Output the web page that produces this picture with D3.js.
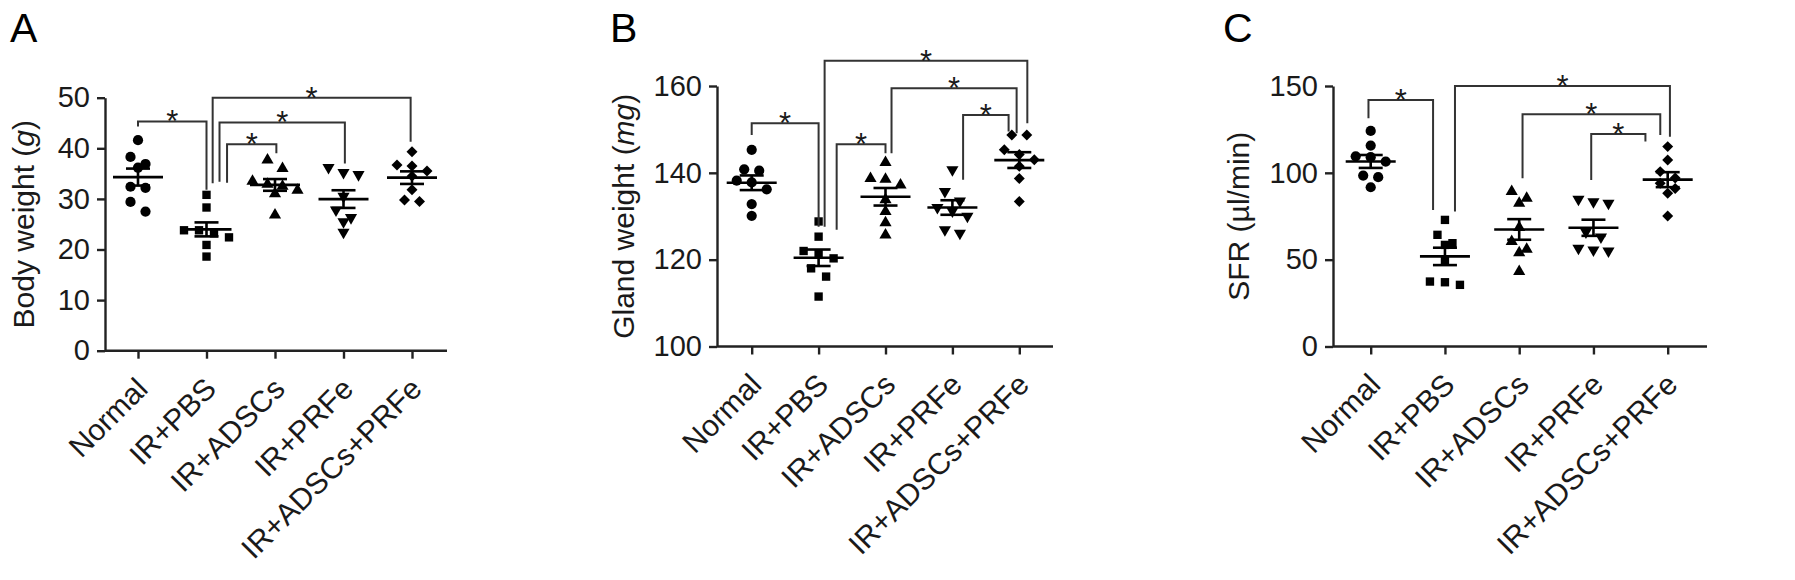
<!DOCTYPE html>
<html>
<head>
<meta charset="utf-8">
<script src="https://cdn.jsdelivr.net/npm/d3@7"></script>
<style>
  body { margin: 0; background: #fff; }
  svg { font-family: "Liberation Sans", Arial, sans-serif; display: block; }
</style>
</head>
<body>
<script>
// groups and marker shapes (same for every panel)
const groups = ['Normal', 'IR+PBS', 'IR+ADSCs', 'IR+PRFe', 'IR+ADSCs+PRFe']
const shapes = ['circle', 'square', 'triangle', 'triangleDown', 'diamond']

// A: body weight (g), one array per group
const bodyWeight = [
  [41.6, 38.3, 36.9, 36.2, 32.4, 32.2, 29.4, 27.5],
  [30.8, 28.3, 23.8, 23.8, 23.2, 22.4, 20.9, 18.6],
  [37.7, 36.0, 33.5, 32.9, 32.5, 31.7, 31.0, 26.8],
  [36.2, 35.2, 34.8, 30.5, 27.8, 26.3, 25.5, 23.4],
  [39.3, 36.7, 36.5, 35.5, 34.5, 31.8, 29.8, 29.5]
]

// B: gland weight (mg)
const glandWeight = [
  [145.3, 140.8, 140.5, 138.2, 137.8, 136.2, 132.8, 130.1],
  [128.8, 125.3, 122.0, 121.5, 120.3, 118.0, 116.1, 111.5],
  [142.4, 138.7, 138.5, 137.2, 133.8, 131.1, 128.5, 125.7],
  [140.7, 135.7, 133.5, 132.0, 131.2, 130.0, 126.9, 126.1],
  [148.7, 148.7, 145.3, 144.2, 143.0, 141.5, 138.7, 133.4]
]

// C: salivary flow rate (ul/min)
const sfr = [
  [124.1, 115.7, 109.5, 109.0, 106.5, 98.4, 97.5, 91.7],
  [72.9, 64.3, 59.5, 58.5, 49.9, 37.4, 37.0, 35.5],
  [89.2, 85.4, 82.5, 68.5, 60.4, 56.0, 54.0, 43.2],
  [84.8, 83.4, 82.5, 66.0, 63.0, 56.6, 55.6, 55.0],
  [115.1, 107.4, 100.7, 97.0, 94.0, 91.0, 88.2, 75.2]
]

// significance brackets: [from group, to group, bar level, left leg end, right leg end]
const bodyBrackets = [
  [0, 1, 45.3, 44.3, 31.8],
  [1, 4, 50.0, 33.1, 41.3],
  [1, 3, 45.1, 33.4, 37.0],
  [1, 2, 40.8, 33.2, 39.0]
]
const glandBrackets = [
  [0, 1, 151.4, 148.7, 127.6],
  [1, 4, 165.8, 127.6, 151.4],
  [2, 4, 159.5, 144.5, 149.1],
  [1, 2, 146.6, 126.9, 144.5],
  [3, 4, 153.3, 138.4, 149.5]
]
const sfrBrackets = [
  [0, 1, 141.9, 131.4, 78.6],
  [1, 4, 150.0, 77.7, 120.8],
  [2, 4, 133.7, 96.9, 121.8],
  [3, 4, 122.4, 95.9, 118.0]
]

// y ticks
const bodyTicks = [0, 10, 20, 30, 40, 50]
const glandTicks = [100, 120, 140, 160]
const sfrTicks = [0, 50, 100, 150]

let width = 1795
let height = 580

let svg = d3.select('body').append('svg')
  .attr('width', width)
  .attr('height', height)

let panels = [
  {
    letter: 'A', letterX: 10, data: bodyWeight, brackets: bodyBrackets, ticks: bodyTicks,
    domain: [0, 50], axisX: 105, top: 97.7, bottom: 350.7, first: 138, last: 412, end: 447,
    labelX: 34, label: ['Body weight (', 'g', ')'],
    // leg nudges (in steps) so brackets leaving the same group don't overlap
    nudge: [[0, 0], [0.09, -0.02], [0.19, 0.02], [0.3, 0.02]]
  },
  {
    letter: 'B', letterX: 610, data: glandWeight, brackets: glandBrackets, ticks: glandTicks,
    domain: [100, 160], axisX: 717, top: 86, bottom: 346.5, first: 751.7, last: 1019.3, end: 1053,
    labelX: 634, label: ['Gland weight (', 'mg', ')'],
    nudge: [[0, 0], [0.09, 0.12], [0.09, -0.04], [0.27, 0], [0.16, -0.16]]
  },
  {
    letter: 'C', letterX: 1223, data: sfr, brackets: sfrBrackets, ticks: sfrTicks,
    domain: [0, 150], axisX: 1333, top: 86, bottom: 346.5, first: 1370.7, last: 1667.7, end: 1707,
    labelX: 1249, label: ['SFR (\u00b5l/min)'],
    nudge: [[-0.03, -0.16], [0.135, 0.03], [0.045, -0.1], [-0.03, -0.3]]
  }
]

panels.forEach(drawPanel)

function symbolFor (shape) {
  if (shape === 'circle') return d3.symbol().type(d3.symbolCircle).size(82)()
  if (shape === 'square') return d3.symbol().type(d3.symbolSquare).size(70)()
  if (shape === 'diamond') return d3.symbol().type(d3.symbolSquare).size(60)()
  return d3.symbol().type(d3.symbolTriangle).size(64)()
}

function rotationFor (shape) {
  if (shape === 'triangleDown') return 180
  if (shape === 'diamond') return 45
  return 0
}

// GraphPad-like scatter: points close in value are spread side by side
function swarm (values, y) {
  let order = d3.range(values.length).sort((a, b) => values[b] - values[a])
  let clusters = []
  order.forEach(i => {
    let c = clusters[clusters.length - 1]
    if (c && Math.abs(y(values[c[0]]) - y(values[i])) < 10) c.push(i)
    else clusters.push([i])
  })
  let dx = new Array(values.length).fill(0)
  clusters.forEach(c => {
    c.sort((a, b) => a - b)
    c.forEach((i, k) => { dx[i] = (k - (c.length - 1) / 2) * 15 })
  })
  return dx
}

function drawPanel (p) {
  let g = svg.append('g')

  let x = d3.scalePoint().domain(groups).range([p.first, p.last])
  let y = d3.scaleLinear().domain(p.domain).range([p.bottom, p.top])
  let step = x.step()

  // panel letter
  g.append('text')
    .attr('x', p.letterX)
    .attr('y', 42)
    .style('font-size', '41px')
    .text(p.letter)

  // y axis
  let yAxis = g.append('g')
    .attr('transform', `translate(${p.axisX},0)`)
    .call(d3.axisLeft(y).tickValues(p.ticks).tickSize(8).tickPadding(7).tickSizeOuter(0))
  yAxis.selectAll('text').style('font-size', '29px').attr('fill', '#1a1a1a')

  // x axis
  let xAxis = g.append('g')
    .attr('transform', `translate(0,${p.bottom})`)
    .call(d3.axisBottom(x).tickSize(8).tickSizeOuter(0))
  xAxis.select('.domain').remove()
  xAxis.append('line')
    .attr('x1', p.axisX).attr('x2', p.end)
    .attr('stroke', '#222').attr('stroke-width', 2.4)
  xAxis.selectAll('.tick text')
    .attr('text-anchor', 'end')
    .attr('dy', null)
    .attr('y', 0)
    .attr('transform', 'translate(11,40) rotate(-45)')
    .style('font-size', '30px')
    .attr('fill', '#1a1a1a')

  svg.selectAll('.domain, .tick line').attr('stroke', '#222').attr('stroke-width', 2.4)

  // y label
  let lab = g.append('text')
    .attr('transform', `translate(${p.labelX},${(p.top + p.bottom) / 2}) rotate(-90)`)
    .attr('text-anchor', 'middle')
    .style('font-size', '30px')
    .attr('fill', '#1a1a1a')
  p.label.forEach((t, i) => {
    lab.append('tspan').text(t).style('font-style', i === 1 ? 'italic' : 'normal')
  })

  // points, mean and SEM
  p.data.forEach((vals, gi) => {
    let cx = x(groups[gi])
    let dx = swarm(vals, y)
    let shape = shapes[gi]
    g.selectAll(null)
      .data(vals)
      .enter().append('path')
      .attr('d', symbolFor(shape))
      .attr('transform', (d, i) => `translate(${cx + dx[i]},${y(d)}) rotate(${rotationFor(shape)})`)
      .attr('fill', '#000')

    let mean = d3.mean(vals)
    let sem = d3.deviation(vals) / Math.sqrt(vals.length)
    let stats = g.append('g').attr('stroke', '#000').attr('stroke-width', 2.6)
    stats.append('line')
      .attr('x1', cx - 25).attr('x2', cx + 25)
      .attr('y1', y(mean)).attr('y2', y(mean))
    stats.append('line')
      .attr('x1', cx).attr('x2', cx)
      .attr('y1', y(mean - sem)).attr('y2', y(mean + sem))
    ;[mean - sem, mean + sem].forEach(v => {
      stats.append('line')
        .attr('x1', cx - 12).attr('x2', cx + 12)
        .attr('y1', y(v)).attr('y2', y(v))
    })
  })

  // significance brackets
  p.brackets.forEach((b, bi) => {
    let [a, c, level, ya, yb] = b
    let xa = x(groups[a]) + p.nudge[bi][0] * step
    let xb = x(groups[c]) + p.nudge[bi][1] * step
    g.append('path')
      .attr('d', `M${xa},${y(ya)}V${y(level)}H${xb}V${y(yb)}`)
      .attr('fill', 'none')
      .attr('stroke', '#333')
      .attr('stroke-width', 2)
    g.append('text')
      .attr('x', (xa + xb) / 2)
      .attr('y', y(level) + 11)
      .attr('text-anchor', 'middle')
      .style('font-size', '31px')
      .attr('fill', '#1a1a1a')
      .text('*')
  })
}
</script>
</body>
</html>
